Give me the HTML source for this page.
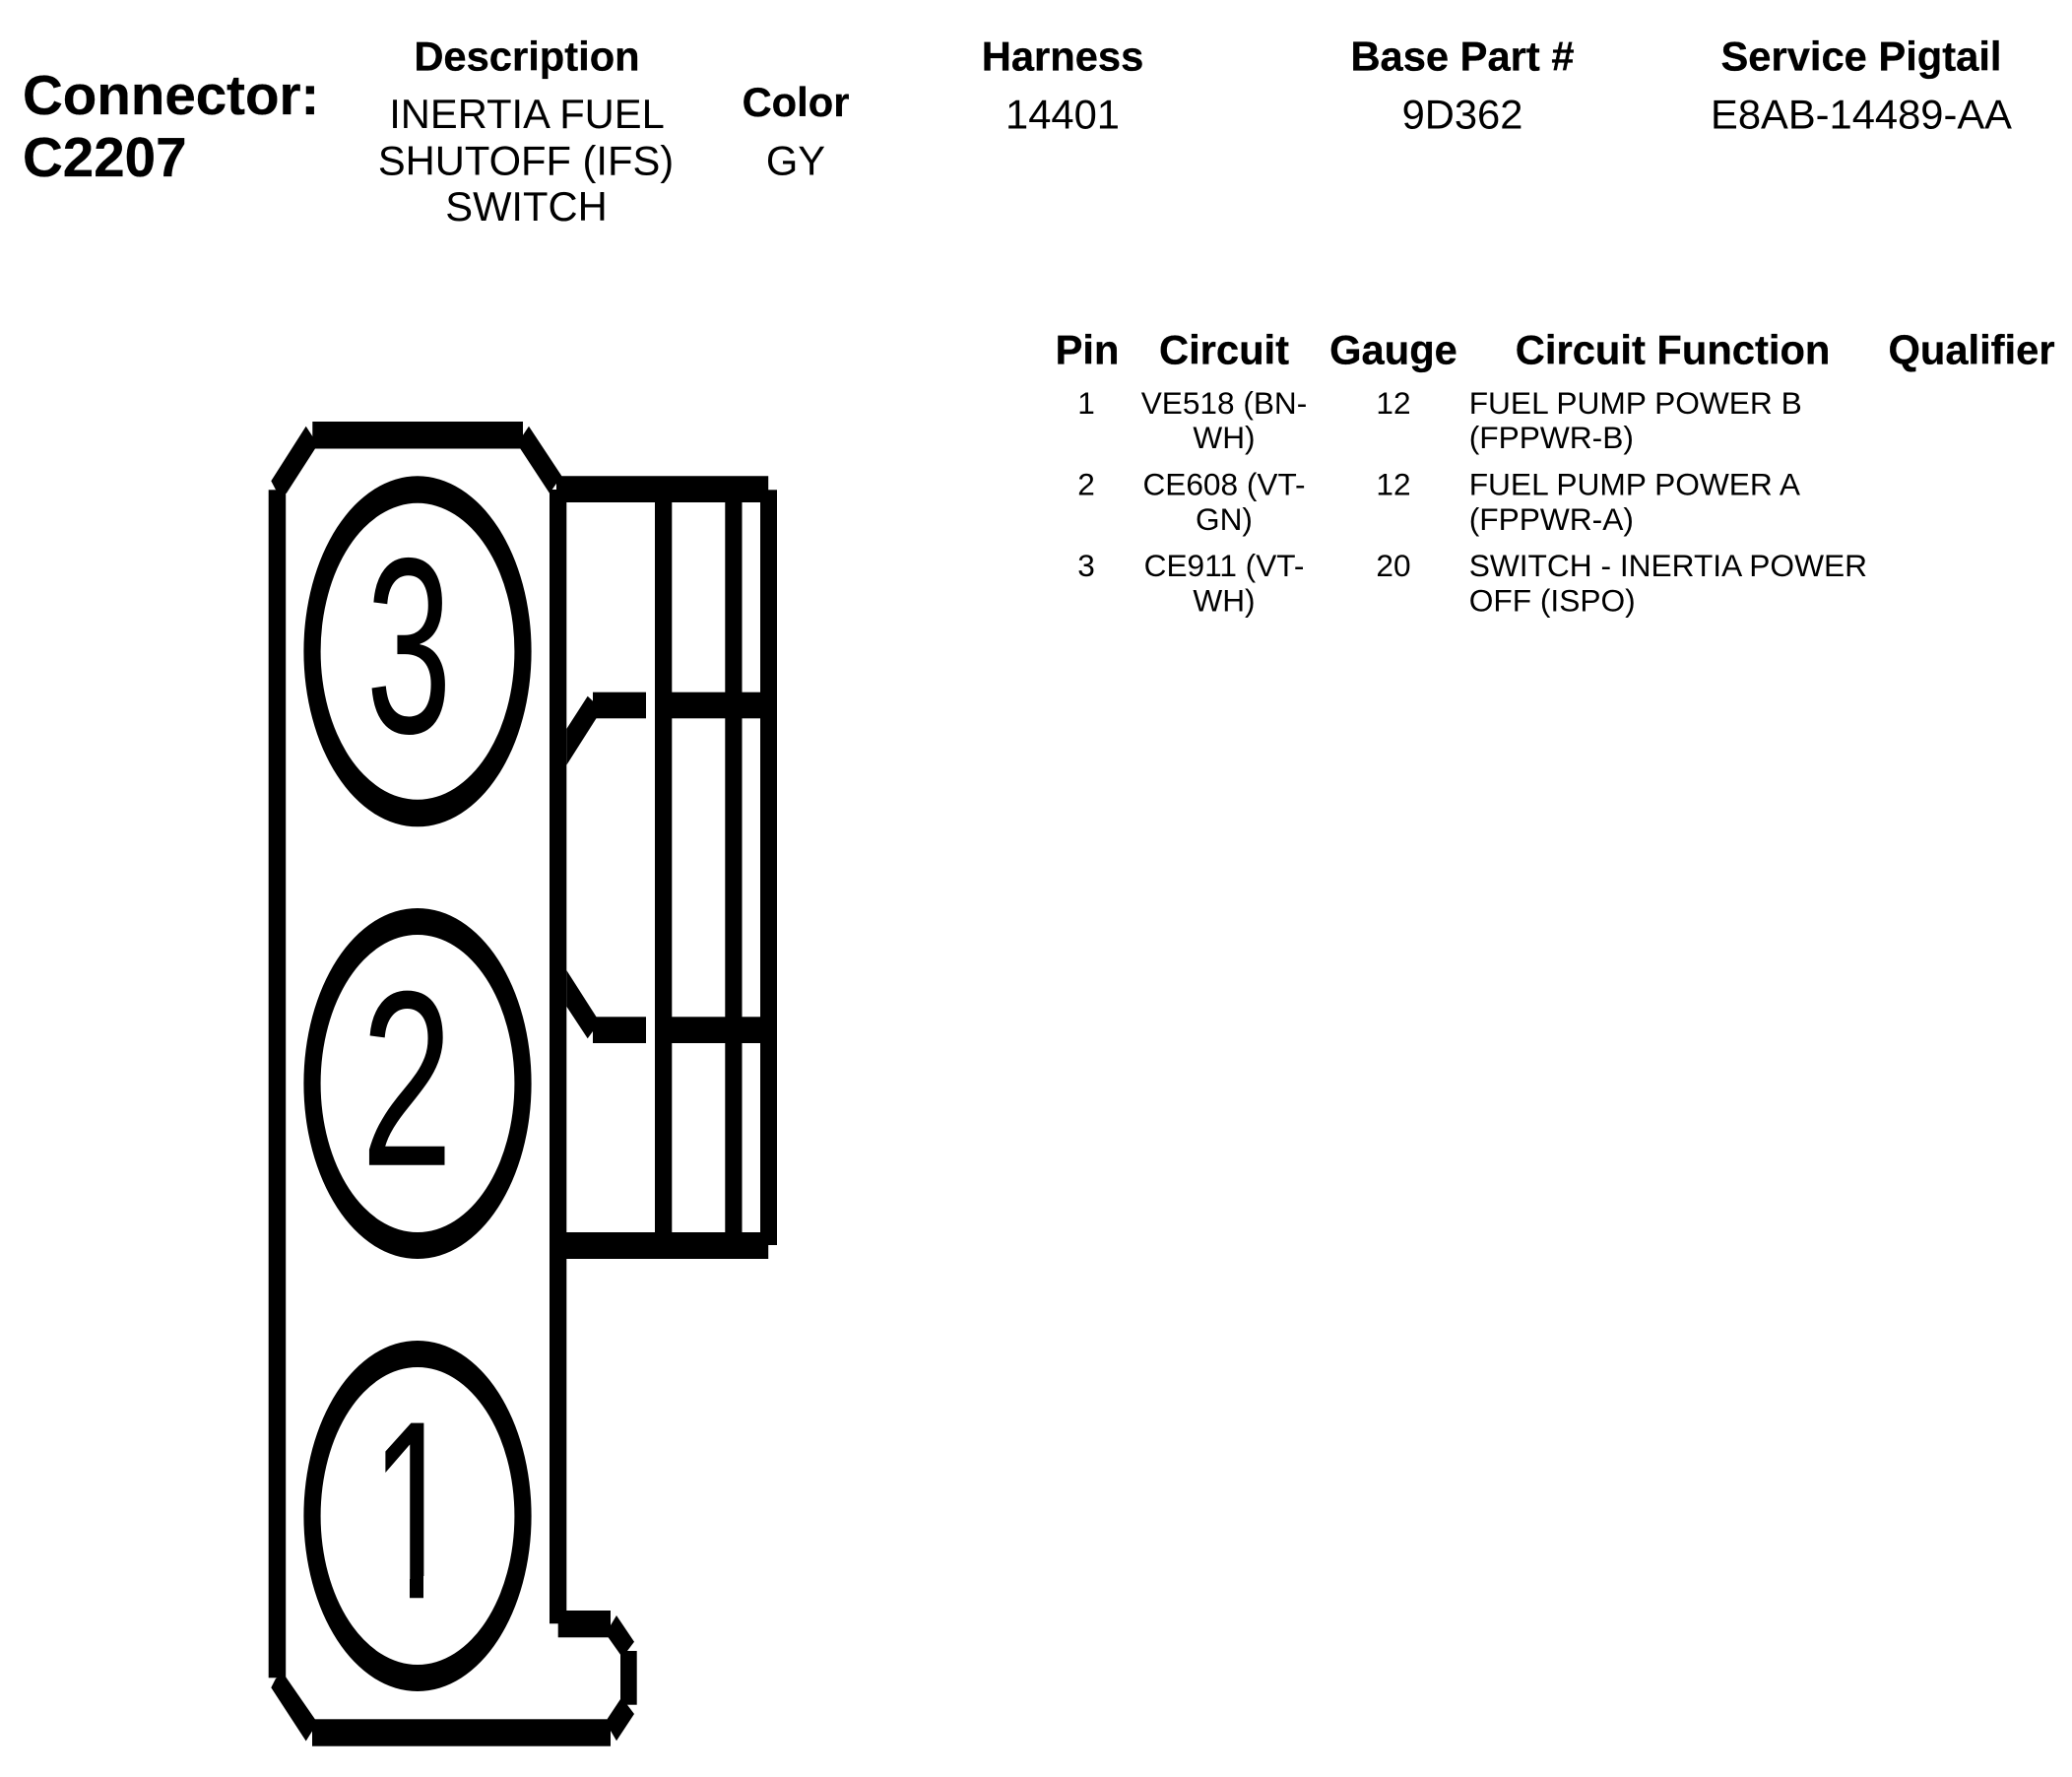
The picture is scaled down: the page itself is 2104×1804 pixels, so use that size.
<!DOCTYPE html>
<html>
<head>
<meta charset="utf-8">
<style>
html,body{margin:0;padding:0;background:#fff;width:2104px;height:1804px;overflow:hidden}
svg{display:block}
text{font-family:"Liberation Sans",Arial,sans-serif;fill:#000}
.h{font-weight:bold;font-size:41.7px;text-anchor:middle;stroke:#000;stroke-width:.3px}
.v{font-size:41.7px;text-anchor:middle}
.c{font-size:31.6px;text-anchor:middle}
.l{font-size:31.7px}
.b{font-weight:bold;font-size:56.5px;stroke:#000;stroke-width:.3px}
</style>
</head>
<body>
<svg width="2104" height="1804" viewBox="0 0 2104 1804" xmlns="http://www.w3.org/2000/svg">
<defs>
<clipPath id="one">
  <rect x="380" y="1440" width="60" height="160"/>
  <rect x="416" y="1440" width="14" height="183"/>
</clipPath>
</defs>
<rect width="2104" height="1804" fill="#fff"/>

<!-- Header -->
<text class="b" x="23" y="116">Connector:</text>
<text class="b" x="23" y="179">C2207</text>
<text class="h" x="535" y="71.7">Description</text>
<text class="v" x="535" y="130">INERTIA FUEL</text>
<text class="v" x="534" y="177.5">SHUTOFF (IFS)</text>
<text class="v" x="534.5" y="224">SWITCH</text>
<text class="h" x="808" y="118">Color</text>
<text class="v" x="808" y="177.5">GY</text>
<text class="h" x="1079" y="71.7">Harness</text>
<text class="v" x="1079" y="130.5">14401</text>
<text class="h" x="1485" y="71.7">Base Part #</text>
<text class="v" x="1485" y="130.5">9D362</text>
<text class="h" x="1890" y="71.7">Service Pigtail</text>
<text class="v" x="1890" y="130.5">E8AB-14489-AA</text>

<!-- Table -->
<text class="h" x="1104" y="369.3">Pin</text>
<text class="h" x="1243" y="369.3">Circuit</text>
<text class="h" x="1415" y="369.3">Gauge</text>
<text class="h" x="1698.6" y="369.3">Circuit Function</text>
<text class="h" x="2002" y="369.3">Qualifier</text>

<text class="c" x="1103" y="420">1</text>
<text class="c" x="1243" y="420">VE518 (BN-</text>
<text class="c" x="1243" y="455">WH)</text>
<text class="c" x="1415" y="420">12</text>
<text class="l" x="1491.7" y="420">FUEL PUMP POWER B</text>
<text class="l" x="1491.7" y="455">(FPPWR-B)</text>

<text class="c" x="1103" y="502.5">2</text>
<text class="c" x="1243" y="502.5">CE608 (VT-</text>
<text class="c" x="1243" y="538">GN)</text>
<text class="c" x="1415" y="502.5">12</text>
<text class="l" x="1491.7" y="502.5">FUEL PUMP POWER A</text>
<text class="l" x="1491.7" y="538">(FPPWR-A)</text>

<text class="c" x="1103" y="585">3</text>
<text class="c" x="1243" y="585">CE911 (VT-</text>
<text class="c" x="1243" y="620.5">WH)</text>
<text class="c" x="1415" y="585">20</text>
<text class="l" x="1491.7" y="585">SWITCH - INERTIA POWER</text>
<text class="l" x="1491.7" y="620.5">OFF (ISPO)</text>

<!-- Connector outline -->
<g fill="#000">
  <rect x="272.7" y="497.3" width="17.5" height="1206"/>
  <rect x="558" y="497" width="17.3" height="1151.3"/>
  <rect x="317.3" y="428" width="213.7" height="27.5"/>
  <polygon points="310.7,432.7 317.5,443.3 320,455.5 290.7,501 280,497.3 275.3,488.3"/>
  <polygon points="537,432.7 531,441.7 528.3,455.5 558,500.7 570.4,483.3"/>
  <polygon points="565,483.3 780.2,483.3 780.2,510 565,510"/>
  <rect x="772" y="497.3" width="17" height="766.7"/>
  <rect x="665" y="500" width="17.3" height="770"/>
  <rect x="736.3" y="500" width="17.2" height="770"/>
  <rect x="565" y="1251" width="215.2" height="27"/>
  <!-- cross bars -->
  <rect x="602" y="702.7" width="54" height="26.6"/>
  <rect x="665" y="702.7" width="115" height="26.6"/>
  <polygon points="575.3,740 596.7,706.7 602,711.7 605.5,729.3 575.3,776.7"/>
  <rect x="602" y="1032.3" width="54" height="26.7"/>
  <rect x="665" y="1032.3" width="115" height="26.7"/>
  <polygon points="575.3,985 605.5,1032.3 602,1047 596.7,1054.3 575.3,1021.7"/>
  <!-- bottom hook -->
  <rect x="566.7" y="1635" width="53.3" height="27.3"/>
  <polygon points="626,1640 644,1666.7 637,1676 630.7,1680.7 616,1660 620,1650"/>
  <rect x="630" y="1676" width="16.7" height="54.7"/>
  <polygon points="644,1740 626,1767.3 620,1757 616.7,1745 630,1725 637,1730.7"/>
  <rect x="317" y="1745.3" width="303" height="27.4"/>
  <polygon points="275.3,1713.3 280,1704 288,1699.3 320,1745.5 317,1757.5 310.7,1767.5"/>
</g>

<!-- Pin ellipses -->
<g fill="#000" fill-rule="evenodd">
  <path d="M308.4,661.3a115.6,178 0 1,0 231.2,0a115.6,178 0 1,0 -231.2,0zM325.6,661.3a98.4,150.5 0 1,0 196.8,0a98.4,150.5 0 1,0 -196.8,0z"/>
  <path d="M308.4,1100a115.6,178 0 1,0 231.2,0a115.6,178 0 1,0 -231.2,0zM325.6,1100a98.4,151 0 1,0 196.8,0a98.4,151 0 1,0 -196.8,0z"/>
  <path d="M308.4,1539a115.6,178 0 1,0 231.2,0a115.6,178 0 1,0 -231.2,0zM325.6,1539a98.4,151 0 1,0 196.8,0a98.4,151 0 1,0 -196.8,0z"/>
</g>

<!-- Pin digits -->
<text font-size="160" transform="translate(371.6,743.5) scale(.98,1.59)">3</text>
<text font-size="160" transform="translate(366.5,1182.7) scale(1.05,1.585)">2</text>
<g clip-path="url(#one)">
<text font-size="160" transform="translate(376,1622.3) scale(1,1.614)">1</text>
</g>
</svg>
</body>
</html>
